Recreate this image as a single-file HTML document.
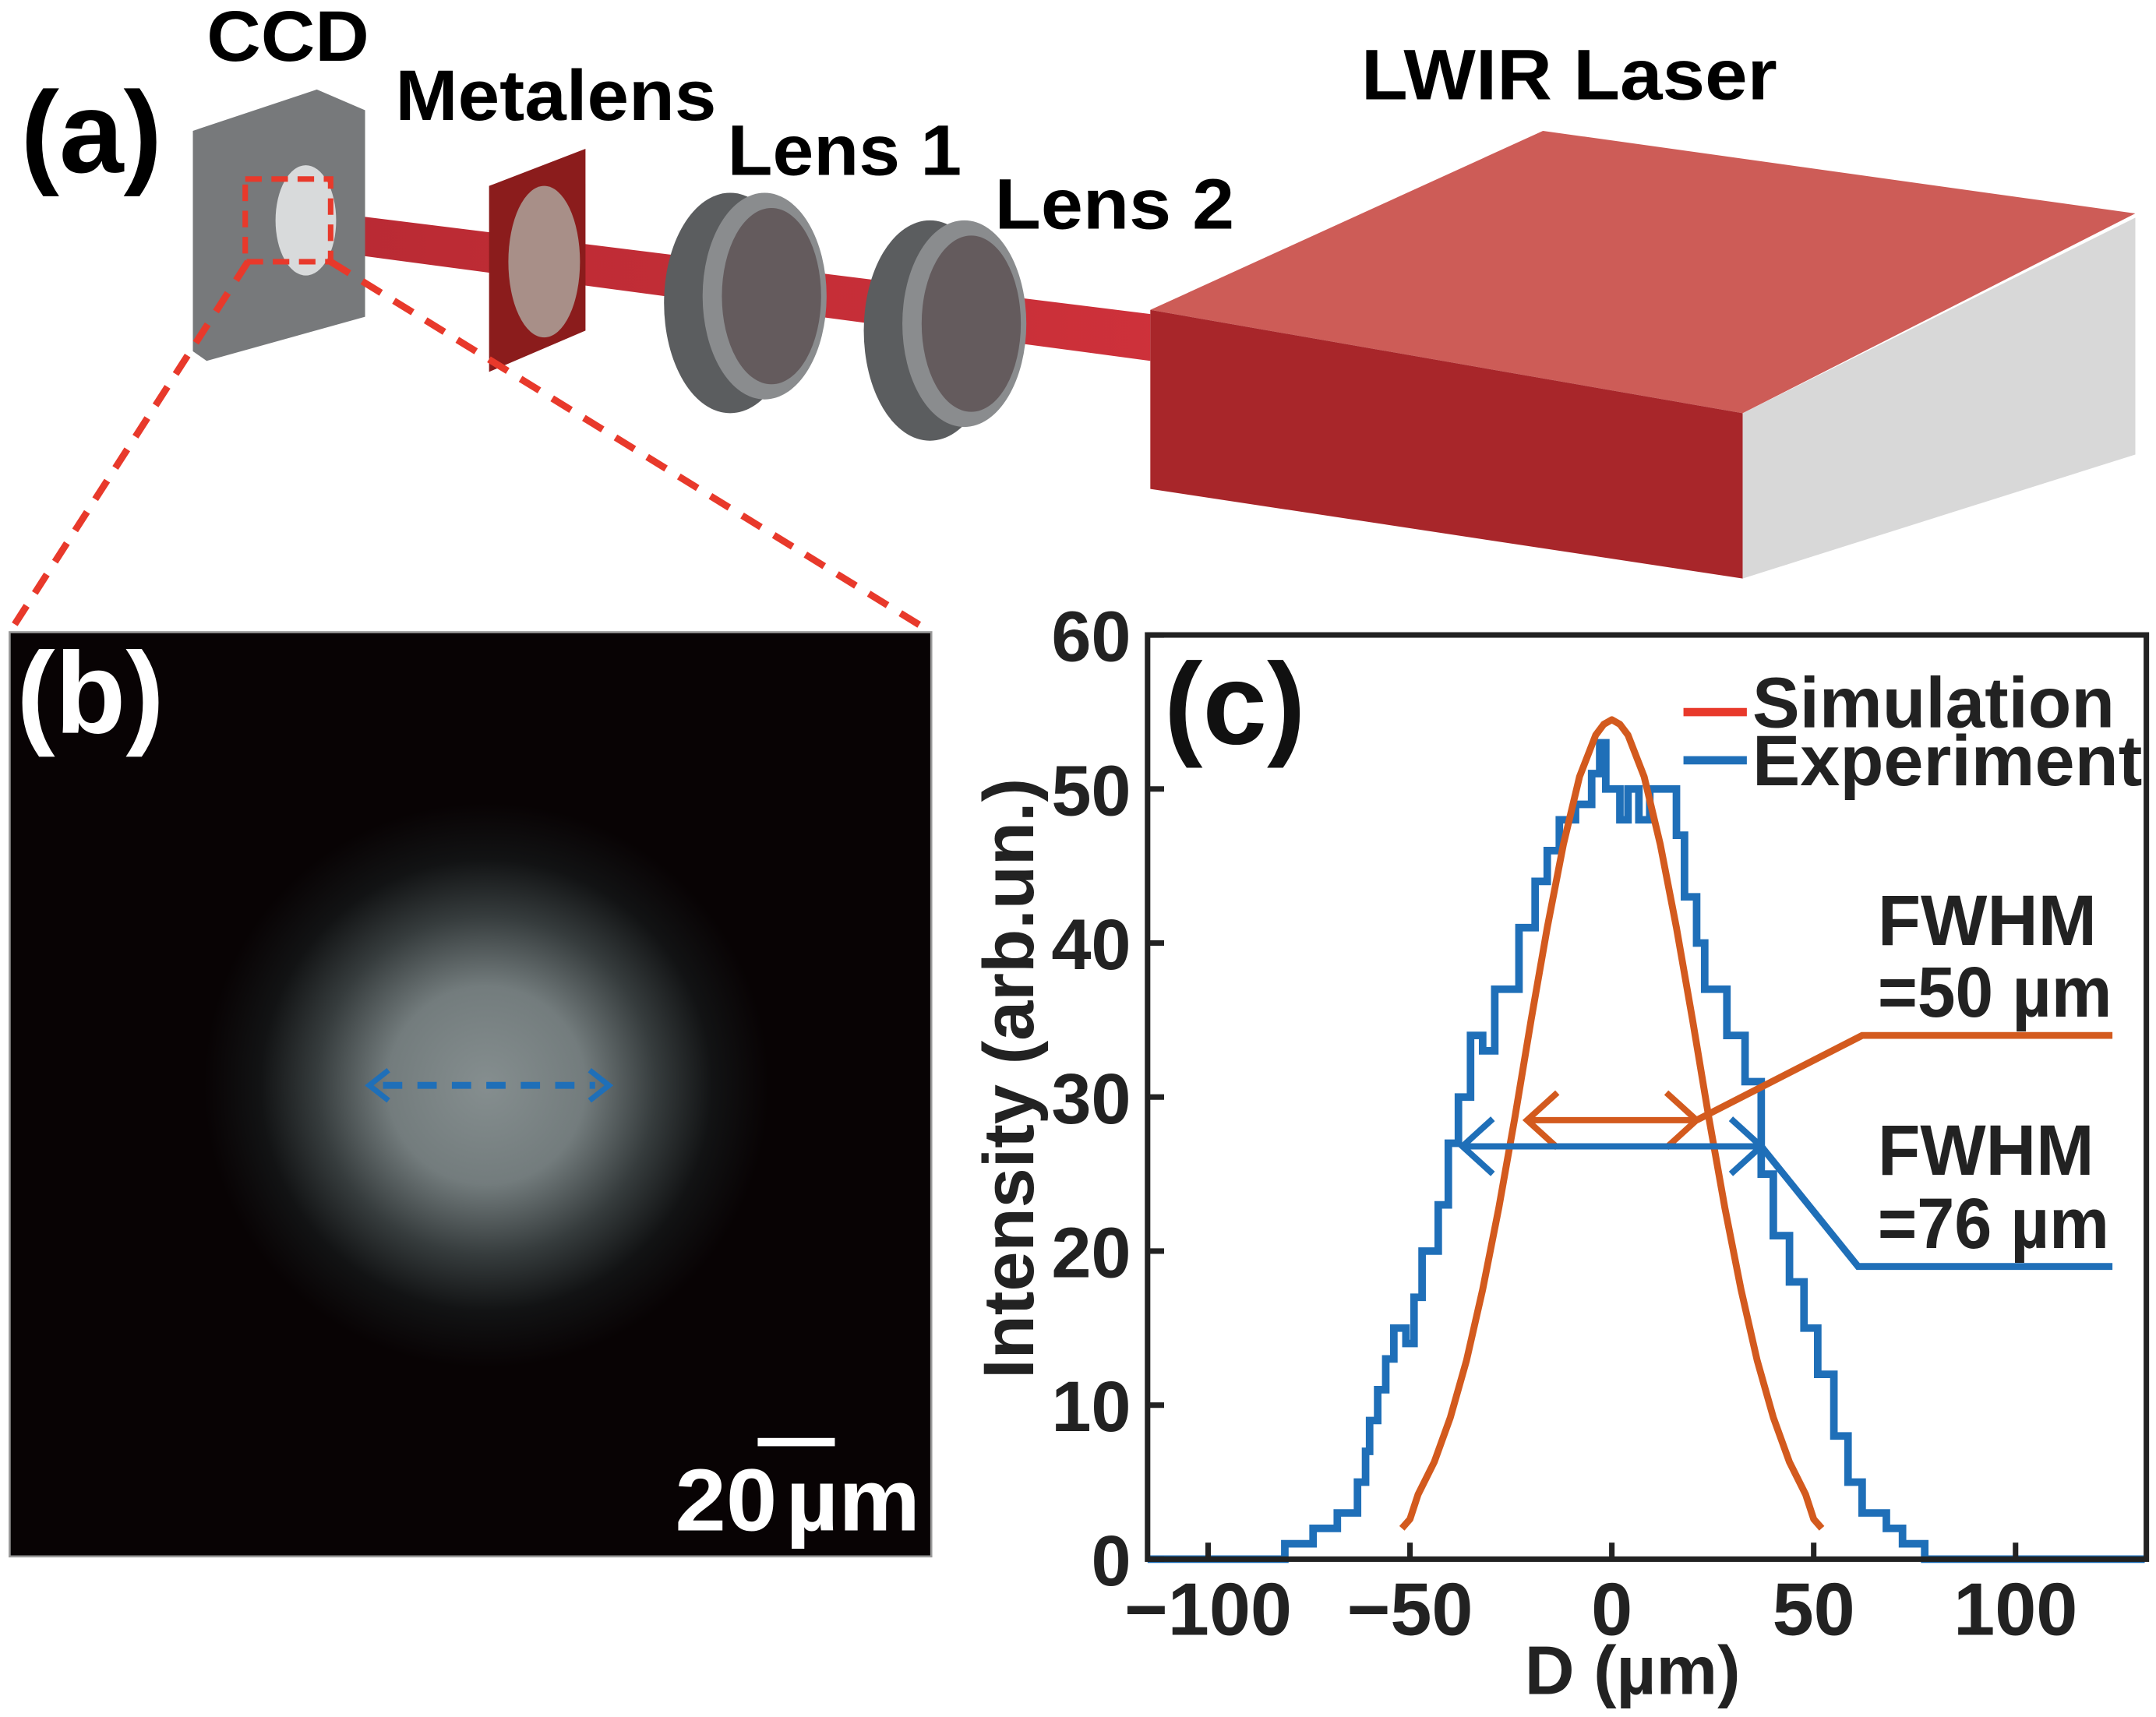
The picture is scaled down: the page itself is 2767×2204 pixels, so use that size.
<!DOCTYPE html>
<html><head><meta charset="utf-8">
<style>
html,body{margin:0;padding:0;background:#fff;}
svg{display:block;}
text{font-family:"Liberation Sans",sans-serif;font-weight:bold;}
</style></head>
<body>
<svg id="fig" width="2767" height="2204" viewBox="0 0 1565 1246.6" preserveAspectRatio="none" xmlns="http://www.w3.org/2000/svg">
<defs>
<radialGradient id="spot" cx="0.5" cy="0.5" r="0.5">
<stop offset="0" stop-color="#858e8f"/>
<stop offset="0.35" stop-color="#737c7d"/>
<stop offset="0.6" stop-color="#363c3d"/>
<stop offset="0.8" stop-color="#121314"/>
<stop offset="1" stop-color="#080304"/>
</radialGradient>
<linearGradient id="beam" x1="0" x2="1"><stop offset="0" stop-color="#b0121c"/><stop offset="1" stop-color="#c81a24"/></linearGradient>
</defs>

<g>
  <polygon points="205,150 835,228 835,262 205,178" fill="url(#beam)" opacity="0.9"/>
  <polygon points="140,95 230,65 265,80 265,230 150,262 140,255" fill="#77797b"/>
  <ellipse cx="222" cy="160" rx="22" ry="40" fill="#d8dadb"/>
  <rect x="178" y="130" width="62" height="60" fill="none" stroke="#e8392b" stroke-width="4" stroke-dasharray="12,7"/>
  <polygon points="355,135 425,108 425,240 355,270" fill="#8b1c1c"/>
  <ellipse cx="395" cy="190" rx="26" ry="55" fill="#a88f88"/>
  <g>
    <ellipse cx="530" cy="220" rx="48" ry="80" fill="#5b5d5f"/>
    <ellipse cx="555" cy="215" rx="45" ry="75" fill="#8a8c8e"/>
    <ellipse cx="560" cy="215" rx="36" ry="64" fill="#5a4f51" opacity="0.8"/>
  </g>
  <g>
    <ellipse cx="675" cy="240" rx="48" ry="80" fill="#5b5d5f"/>
    <ellipse cx="700" cy="235" rx="45" ry="75" fill="#8a8c8e"/>
    <ellipse cx="705" cy="235" rx="36" ry="64" fill="#5a4f51" opacity="0.8"/>
  </g>
  <g>
    <polygon points="835,225 1120,95 1550,155 1265,300" fill="#cd5c57"/>
    <polygon points="835,225 1265,300 1265,420 835,355" fill="#a8262a"/>
    <polygon points="1265,300 1550,158 1550,330 1265,420" fill="#d8d8d8"/>
  </g>
  <line x1="180" y1="190" x2="7" y2="459" stroke="#e8392b" stroke-width="5" stroke-dasharray="16,11"/>
  <line x1="240" y1="190" x2="676" y2="459" stroke="#e8392b" stroke-width="5" stroke-dasharray="16,11"/>
  <text x="15" y="125" font-size="84">(a)</text>
  <text x="150" y="44" font-size="52" textLength="118" lengthAdjust="spacingAndGlyphs">CCD</text>
  <text x="287" y="87" font-size="52" textLength="233" lengthAdjust="spacingAndGlyphs">Metalens</text>
  <text x="528" y="127" font-size="52" textLength="170" lengthAdjust="spacingAndGlyphs">Lens 1</text>
  <text x="722" y="166" font-size="52" textLength="174" lengthAdjust="spacingAndGlyphs">Lens 2</text>
  <text x="988" y="72" font-size="52" textLength="302" lengthAdjust="spacingAndGlyphs">LWIR Laser</text>
</g>

<g>
  <rect x="7" y="459" width="669" height="671" fill="#080304" stroke="#999" stroke-width="1.5"/>
  <circle cx="353" cy="788" r="205" fill="url(#spot)"/>
  <line x1="278" y1="788" x2="432" y2="788" stroke="#1f6fb8" stroke-width="5" stroke-dasharray="14,11"/>
  <polyline points="282,777 268,788 282,799" fill="none" stroke="#1f6fb8" stroke-width="4"/>
  <polyline points="428,777 442,788 428,799" fill="none" stroke="#1f6fb8" stroke-width="4"/>
  <text x="12" y="532" font-size="84" fill="#fff">(b)</text>
  <rect x="550" y="1044" width="56" height="6" fill="#fff"/>
  <text x="490" y="1111" font-size="64" fill="#fff" textLength="178" lengthAdjust="spacingAndGlyphs">20<tspan dx="6">µm</tspan></text>
</g>

<g id="chart"></g>
</svg>
<script>
const xTicks=[-100,-50,0,50,100];
const xTickLabels=['\u2212100','\u221250','0','50','100'];
const yTicks=[0,10,20,30,40,50,60];
const yTickLabels=['0','10','20','30','40','50','60'];
const simX=[-52,-50,-48,-44,-40,-36,-32,-28,-24,-20,-16,-12,-8,-4,-2,0,2,4,8,12,16,20,24,28,32,36,40,44,48,50,52];
const simY=[2.0,2.6,4.2,6.3,9.2,12.9,17.5,22.8,28.7,35.0,41.0,46.4,50.8,53.5,54.2,54.5,54.2,53.5,50.8,46.4,41.0,35.0,28.7,22.8,17.5,12.9,9.2,6.3,4.2,2.6,2.0];
const expX=[-115,-81,-74,-68,-63,-61,-60,-58,-56,-54,-51,-49,-47,-43,-40.5,-38,-35,-32,-29,-28,-23,-19,-16,-13,-9,-5,-3,-1.5,2,4,6.7,9.4,12.7,16,18,21,23,28.5,33,37,40,44,47.6,51,55,58.5,62,68,72,77.5,132];
const expY=[0,1,2,3,5,7,9,11,13,15,14,17,20,23,27,30,34,33,37,37,41,44,46,48,49,51,53,50,48,50,48,50,50,47,43,40,37,34,31,25,21,18,15,12,8,5,3,2,1,0,0];
const fwhmSim=[-21,21,28.5];
const fwhmExp=[-37,37,26.8];
const leaderSim=[[21,28.5],[62,34],[124,34]];
const leaderExp=[[37,26.8],[61,19],[124,19]];

const L=833,R=1558,T=461,B=1132,XMIN=-115,XMAX=132.4,YMIN=0,YMAX=60;
const sx=v=>L+(v-XMIN)/(XMAX-XMIN)*(R-L);
const sy=v=>B-(v-YMIN)/(YMAX-YMIN)*(B-T);
const NS='http://www.w3.org/2000/svg';
const g=document.getElementById('chart');
function mk(tag,attrs,parent){const e=document.createElementNS(NS,tag);for(const k in attrs)e.setAttribute(k,attrs[k]);(parent||g).appendChild(e);return e;}
const OR='#d35a1e',BL='#1f6fb8';

let d='';
for(let i=0;i<expX.length;i++){
  if(i===0)d+='M'+sx(expX[0])+','+sy(expY[0]);
  else d+=' H'+sx(expX[i])+' V'+sy(expY[i]);
}
const ep=mk('path',{d:d,fill:'none',stroke:BL,'stroke-width':5.5,'stroke-linejoin':'miter'});


const sp=mk('polyline',{points:simX.map((x,i)=>sx(x)+','+sy(simY[i])).join(' '),fill:'none',stroke:OR,'stroke-width':5,'stroke-linejoin':'round'});



function arrow(f,col,name){
  const gg=mk('g',{});
  
  
  const y=sy(f[2]),x1=sx(f[0]),x2=sx(f[1]);
  mk('line',{x1:x1,y1:y,x2:x2,y2:y,stroke:col,'stroke-width':4.5},gg);
  mk('polyline',{points:(x1+22)+','+(y-20)+' '+x1+','+y+' '+(x1+22)+','+(y+20),fill:'none',stroke:col,'stroke-width':4.5},gg);
  mk('polyline',{points:(x2-22)+','+(y-20)+' '+x2+','+y+' '+(x2-22)+','+(y+20),fill:'none',stroke:col,'stroke-width':4.5},gg);
}
arrow(fwhmSim,OR,'fwhm-sim-arrow');
arrow(fwhmExp,BL,'fwhm-exp-arrow');
const ls=mk('polyline',{points:leaderSim.map(p=>sx(p[0])+','+sy(p[1])).join(' '),fill:'none',stroke:OR,'stroke-width':5});


const le=mk('polyline',{points:leaderExp.map(p=>sx(p[0])+','+sy(p[1])).join(' '),fill:'none',stroke:BL,'stroke-width':5});



const ax=mk('rect',{x:L,y:T,width:R-L,height:B-T,fill:'none',stroke:'#222','stroke-width':4});


xTicks.forEach((v,i)=>{
  mk('line',{x1:sx(v),y1:B,x2:sx(v),y2:B-12,stroke:'#222','stroke-width':4});
  const t=mk('text',{x:sx(v),y:1187,'font-size':54,'text-anchor':'middle',fill:'#222'});
  t.textContent=xTickLabels[i];
  
  
});
yTicks.forEach((v,i)=>{
  mk('line',{x1:L,y1:sy(v),x2:L+12,y2:sy(v),stroke:'#222','stroke-width':4});
  const t=mk('text',{x:821,y:sy(v)+19,'font-size':52,'text-anchor':'end',fill:'#222'});
  t.textContent=yTickLabels[i];
  
  
});
function txt(x,y,s,size,name,extra){const t=mk('text',Object.assign({x:x,y:y,'font-size':size,fill:'#222'},extra||{}));t.textContent=s;return t;}
txt(1185,1230,'D (µm)',50,'x-axis-title',{'text-anchor':'middle'});
txt(750,783,'Intensity (arb.un.)',52,'y-axis-title',{'text-anchor':'middle',transform:'rotate(-90 750 783)'});
txt(845,540,'(c)',84,'panel-c-label',{fill:'#111'});
mk('line',{x1:1222,y1:517,x2:1268,y2:517,stroke:'#e8392b','stroke-width':6});
txt(1272,528,'Simulation',52,'legend-simulation',{textLength:263,lengthAdjust:'spacingAndGlyphs'});
mk('line',{x1:1222,y1:552,x2:1268,y2:552,stroke:BL,'stroke-width':6});
txt(1272,570,'Experiment',52,'legend-experiment',{textLength:283,lengthAdjust:'spacingAndGlyphs'});
txt(1363,686,'FWHM',52,'fwhm-sim-title',{textLength:159,lengthAdjust:'spacingAndGlyphs'});
txt(1363,738,'=50 µm',52,'fwhm-sim-value',{textLength:170,lengthAdjust:'spacingAndGlyphs'});
txt(1363,853,'FWHM',52,'fwhm-exp-title',{textLength:157,lengthAdjust:'spacingAndGlyphs'});
txt(1363,906,'=76 µm',52,'fwhm-exp-value',{textLength:168,lengthAdjust:'spacingAndGlyphs'});
</script>
</body></html>
